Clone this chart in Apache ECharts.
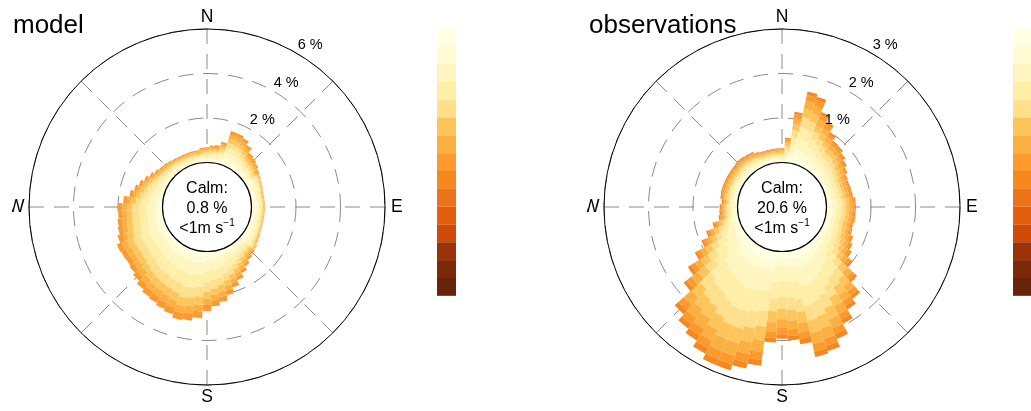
<!DOCTYPE html>
<html><head><meta charset="utf-8">
<script src="https://cdn.jsdelivr.net/npm/echarts@6/dist/echarts.min.js"></script>
<style>html,body{margin:0;padding:0;background:#fff}#c{width:1031px;height:411px}</style>
</head><body><div id="c"></div>
<script>
const FONT = "'Liberation Sans', Arial, Helvetica, sans-serif";
// wind direction bins (degrees, 5-degree bins)
const directions = [5,10,15,20,25,30,35,40,45,50,55,60,65,70,75,80,85,90,95,100,105,110,115,120,125,130,135,140,145,150,155,160,165,170,175,180,185,190,195,200,205,210,215,220,225,230,235,240,245,250,255,260,265,270,275,280,285,290,295,300,305,310,315,320,325,330,335,340,345,350,355,360];
const cardinalLabels = ['N','E','S','W'];
const modelTicks = [2,4,6];
const obsTicks = [1,2,3];
const modelCalm = 0.8;
const obsCalm = 20.6;
const palette = ['#FFFFE4','#FFFBD2','#FFF6BF','#FFEEA6','#FEE08C','#FEC55A','#FDB042','#FC9A2E','#F7871F','#EE7318','#E35F0E','#CF4A06','#9C3207','#7C2908','#66250A'];

// model: frequency (%) per wind-speed band, per direction
const m1 = [0.09,0.1,0.12,0.19,0.19,0.18,0.16,0.13,0.12,0.11,0.1, 0.15,0.14,0.13,0.12,0.12,0.12,0.12,0.12,0.12,0.12,0.13,0.13,0.14,0.15,0.17, 0.11,0.12,0.14,0.16, 0.12,0.14,0.16,0.18,0.2,0.21,0.24,0.25,0.26,0.24,0.24,0.23,0.22,0.21,0.2,0.19,0.19,0.19,0.19,0.18,0.17,0.16,0.16,0.16,0.14,0.12,0.11,0.1,0.08, 0.11,0.1,0.09,0.08,0.08,0.07,0.07,0.07,0.07,0.07,0.07,0.08,0.08];
const m2 = [0.09,0.1,0.12,0.19,0.19,0.18,0.16,0.13,0.12,0.11,0.1, 0.15,0.14,0.13,0.12,0.12,0.12,0.12,0.12,0.12,0.12,0.13,0.13,0.14,0.15,0.17, 0.11,0.12,0.14,0.16, 0.14,0.16,0.18,0.21,0.22,0.24,0.27,0.28,0.29,0.27,0.27,0.26,0.25,0.24,0.23,0.21,0.21,0.21,0.21,0.2,0.19,0.18,0.18,0.18,0.16,0.14,0.12,0.11,0.09, 0.11,0.1,0.09,0.08,0.08,0.07,0.07,0.07,0.07,0.07,0.07,0.08,0.08];
const m3 = [0.11,0.11,0.14,0.22,0.22,0.21,0.18,0.15,0.14,0.13,0.11, 0.15,0.14,0.13,0.12,0.12,0.12,0.12,0.12,0.12,0.12,0.13,0.13,0.14,0.15,0.17, 0.13,0.14,0.16,0.19, 0.28,0.32,0.37,0.41,0.44,0.48,0.54,0.57,0.58,0.55,0.53,0.51,0.5,0.48,0.45,0.43,0.42,0.42,0.43,0.4,0.38,0.37,0.36,0.36,0.32,0.27,0.24,0.22,0.19, 0.13,0.11,0.1,0.1,0.09,0.09,0.08,0.08,0.08,0.08,0.08,0.09,0.1];
const m4 = [0.11,0.11,0.14,0.22,0.22,0.21,0.18,0.15,0.14,0.13,0.11, 0.11,0.1,0.1,0.09,0.09,0.09,0.09,0.09,0.09,0.09,0.09,0.1,0.11,0.11,0.13, 0.13,0.14,0.16,0.19, 0.28,0.32,0.37,0.41,0.44,0.48,0.54,0.57,0.58,0.55,0.53,0.51,0.5,0.48,0.45,0.43,0.42,0.42,0.43,0.4,0.38,0.37,0.36,0.36,0.32,0.27,0.24,0.22,0.19, 0.13,0.11,0.1,0.1,0.09,0.09,0.08,0.08,0.08,0.08,0.08,0.09,0.1];
const m5 = [0.11,0.11,0.14,0.22,0.22,0.21,0.18,0.15,0.14,0.13,0.11, 0.07,0.07,0.07,0.06,0.06,0.06,0.06,0.06,0.06,0.06,0.06,0.07,0.07,0.08,0.08, 0.13,0.14,0.16,0.19, 0.23,0.27,0.31,0.35,0.37,0.4,0.45,0.47,0.48,0.46,0.44,0.43,0.42,0.4,0.38,0.36,0.35,0.35,0.36,0.33,0.32,0.31,0.3,0.3,0.26,0.23,0.2,0.18,0.16, 0.13,0.11,0.1,0.1,0.09,0.09,0.08,0.08,0.08,0.08,0.08,0.09,0.1];
const m6 = [0.09,0.1,0.12,0.19,0.19,0.18,0.16,0.13,0.12,0.11,0.1, 0.06,0.05,0.05,0.05,0.05,0.05,0.05,0.05,0.05,0.05,0.05,0.05,0.06,0.06,0.07, 0.11,0.12,0.14,0.16, 0.19,0.22,0.25,0.28,0.29,0.32,0.36,0.38,0.38,0.37,0.35,0.34,0.34,0.32,0.3,0.29,0.28,0.28,0.29,0.27,0.25,0.25,0.24,0.24,0.21,0.18,0.16,0.14,0.13, 0.11,0.1,0.09,0.08,0.08,0.07,0.07,0.07,0.07,0.07,0.07,0.08,0.08];
const m7 = [0.09,0.1,0.12,0.19,0.19,0.18,0.16,0.13,0.12,0.11,0.1, 0.04,0.03,0.03,0.03,0.03,0.03,0.03,0.03,0.03,0.03,0.03,0.03,0.04,0.04,0.04, 0.11,0.12,0.14,0.16, 0.16,0.18,0.21,0.23,0.25,0.27,0.3,0.32,0.32,0.31,0.3,0.29,0.28,0.27,0.25,0.24,0.23,0.24,0.24,0.22,0.21,0.21,0.2,0.2,0.18,0.15,0.14,0.12,0.11, 0.11,0.1,0.09,0.08,0.08,0.07,0.07,0.07,0.07,0.07,0.07,0.08,0.08];
const m8 = [0.08,0.08,0.1,0.16,0.16,0.15,0.13,0.11,0.1,0.09,0.08, 0.01,0.01,0.01,0.01,0.01,0.01,0.01,0.01,0.01,0.01,0.01,0.01,0.01,0.02,0.02, 0.09,0.1,0.12,0.14, 0.16,0.18,0.21,0.23,0.25,0.27,0.3,0.32,0.32,0.31,0.3,0.29,0.28,0.27,0.25,0.24,0.23,0.24,0.24,0.22,0.21,0.21,0.2,0.2,0.18,0.15,0.14,0.12,0.11, 0.09,0.08,0.07,0.07,0.06,0.06,0.06,0.06,0.06,0.06,0.06,0.07,0.07];

// observations: frequency (%) per wind-speed band, per direction
const o1 = [0.06,0.12,0.17,0.16,0.13,0.12,0.1,0.09,0.09,0.08,0.07,0.07,0.06,0.06,0.06,0.06,0.07,0.07,0.07,0.07,0.06,0.07,0.07,0.08,0.09,0.1, 0.1,0.13,0.14,0.16,0.18,0.19,0.2,0.17,0.16,0.16,0.16,0.21,0.22,0.23,0.23,0.22,0.2,0.2,0.18,0.14,0.12,0.1,0.08,0.06, 0.07,0.05,0.05,0.05,0.04,0.05,0.05,0.05,0.05,0.05,0.05,0.05,0.05,0.05,0.05,0.05,0.04,0.04,0.04,0.04,0.04,0.04];
const o2 = [0.06,0.12,0.17,0.16,0.13,0.12,0.1,0.09,0.09,0.08,0.07,0.07,0.06,0.06,0.06,0.06,0.07,0.07,0.07,0.07,0.06,0.07,0.07,0.08,0.09,0.1, 0.1,0.13,0.14,0.16,0.18,0.19,0.2,0.17,0.16,0.16,0.16,0.21,0.22,0.23,0.23,0.22,0.2,0.2,0.18,0.14,0.12,0.1,0.08,0.06, 0.07,0.05,0.05,0.05,0.04,0.05,0.05,0.05,0.05,0.05,0.05,0.05,0.05,0.05,0.05,0.05,0.04,0.04,0.04,0.04,0.04,0.04];
const o3 = [0.08,0.17,0.25,0.24,0.2,0.17,0.15,0.13,0.13,0.12,0.11,0.1,0.09,0.09,0.09,0.09,0.1,0.1,0.1,0.1,0.1,0.1,0.11,0.12,0.13,0.15, 0.23,0.29,0.31,0.35,0.4,0.43,0.44,0.38,0.36,0.35,0.37,0.47,0.49,0.51,0.51,0.49,0.46,0.44,0.41,0.32,0.27,0.22,0.17,0.14, 0.08,0.06,0.05,0.05,0.05,0.05,0.05,0.05,0.05,0.05,0.05,0.05,0.06,0.06,0.05,0.05,0.05,0.04,0.04,0.04,0.04,0.04];
const o4 = [0.08,0.17,0.25,0.24,0.2,0.17,0.15,0.13,0.13,0.12,0.11,0.1,0.09,0.09,0.09,0.09,0.1,0.1,0.1,0.1,0.1,0.1,0.11,0.12,0.13,0.15, 0.23,0.29,0.31,0.35,0.4,0.43,0.44,0.38,0.36,0.35,0.37,0.47,0.49,0.51,0.51,0.49,0.46,0.44,0.41,0.32,0.27,0.22,0.17,0.14, 0.08,0.06,0.05,0.05,0.05,0.05,0.05,0.05,0.05,0.05,0.05,0.05,0.06,0.06,0.05,0.05,0.05,0.04,0.04,0.04,0.04,0.04];
const o5 = [0.08,0.16,0.23,0.22,0.18,0.16,0.14,0.12,0.12,0.11,0.1,0.09,0.08,0.08,0.08,0.09,0.09,0.09,0.09,0.09,0.09,0.09,0.1,0.11,0.12,0.14, 0.18,0.22,0.24,0.27,0.31,0.34,0.34,0.29,0.28,0.27,0.29,0.36,0.38,0.4,0.4,0.38,0.36,0.34,0.32,0.25,0.21,0.17,0.13,0.11, 0.07,0.05,0.05,0.05,0.04,0.05,0.05,0.05,0.05,0.05,0.05,0.05,0.05,0.05,0.05,0.05,0.04,0.04,0.04,0.04,0.04,0.04];
const o6 = [0.07,0.14,0.2,0.19,0.16,0.14,0.12,0.11,0.1,0.1,0.09,0.08,0.07,0.07,0.07,0.07,0.08,0.08,0.08,0.08,0.08,0.08,0.09,0.09,0.1,0.12, 0.16,0.19,0.21,0.23,0.26,0.29,0.29,0.25,0.24,0.23,0.25,0.31,0.32,0.34,0.34,0.32,0.31,0.29,0.27,0.22,0.18,0.14,0.11,0.1, 0.07,0.05,0.05,0.05,0.04,0.05,0.05,0.05,0.05,0.05,0.05,0.05,0.05,0.05,0.05,0.05,0.04,0.04,0.04,0.04,0.04,0.04];
const o7 = [0.06,0.13,0.18,0.18,0.14,0.13,0.11,0.1,0.09,0.09,0.08,0.07,0.07,0.06,0.07,0.07,0.07,0.07,0.07,0.07,0.07,0.07,0.08,0.09,0.09,0.11, 0.13,0.16,0.17,0.2,0.22,0.24,0.25,0.21,0.2,0.2,0.21,0.26,0.27,0.29,0.29,0.27,0.26,0.25,0.23,0.18,0.15,0.12,0.1,0.08, 0.06,0.05,0.04,0.04,0.04,0.04,0.04,0.04,0.04,0.04,0.04,0.04,0.04,0.04,0.04,0.04,0.04,0.03,0.03,0.03,0.03,0.03];
const o8 = [0.04,0.09,0.13,0.13,0.1,0.09,0.08,0.07,0.07,0.06,0.06,0.05,0.05,0.05,0.05,0.05,0.05,0.05,0.05,0.05,0.05,0.05,0.06,0.06,0.07,0.08, 0.09,0.11,0.12,0.14,0.15,0.17,0.17,0.15,0.14,0.14,0.14,0.18,0.19,0.2,0.2,0.19,0.18,0.17,0.16,0.13,0.11,0.08,0.07,0.06, 0.06,0.04,0.04,0.03,0.03,0.03,0.04,0.04,0.04,0.04,0.04,0.04,0.04,0.04,0.04,0.03,0.03,0.03,0.03,0.03,0.03,0.03];
const o9 = [0.03,0.06,0.08,0.08,0.07,0.06,0.05,0.04,0.04,0.04,0.04,0.03,0.03,0.03,0.03,0.03,0.03,0.03,0.03,0.03,0.03,0.03,0.04,0.04,0.04,0.05, 0.07,0.08,0.09,0.1,0.11,0.12,0.12,0.11,0.1,0.1,0.1,0.13,0.14,0.14,0.14,0.14,0.13,0.12,0.11,0.09,0.08,0.06,0.05,0.04, 0.04,0.03,0.03,0.03,0.03,0.03,0.03,0.03,0.03,0.03,0.03,0.03,0.03,0.03,0.03,0.03,0.02,0.02,0.02,0.02,0.02,0.02];

const modelBands = [m1,m2,m3,m4,m5,m6,m7,m8];
const obsBands = [o1,o2,o3,o4,o5,o6,o7,o8,o9];
const dirCats = directions.map(String);
const cardinalOf = {0: cardinalLabels[0], 90: '{e|' + cardinalLabels[1] + '}', 180: cardinalLabels[2], 270: '{w|' + cardinalLabels[3] + '}'};
const GRID = {color: '#8a8a8a', width: 1, type: [15, 10]};

function barAngle(pi) {
  return {polarIndex: pi, type: 'category', data: dirCats, startAngle: 87.5, clockwise: true,
    boundaryGap: true, show: false};
}
function gridAngle(pi) {
  return {polarIndex: pi, type: 'value', min: 0, max: 360, interval: 45, startAngle: 90, clockwise: true, z: 1,
    axisLine: {show: true, lineStyle: {color: '#000', width: 1}}, axisTick: {show: false},
    axisLabel: {show: true, margin: 3, color: '#000', fontSize: 17.5, fontFamily: FONT,
      rich: {e: {fontSize: 17.5, fontFamily: FONT, color: '#000', padding: [0, 0, 0, 3]},
             w: {fontSize: 17.5, fontFamily: FONT, color: '#000', padding: [0, 1.5, 0, 0]}},
      formatter: v => cardinalOf[v] || ''},
    splitLine: {show: true, lineStyle: GRID}};
}
function gridRadius(pi, min, max, interval) {
  return {polarIndex: pi, type: 'value', min, max, interval, z: 0,
    axisLine: {show: false}, axisTick: {show: false}, axisLabel: {show: false},
    splitLine: {show: true, lineStyle: GRID}};
}

const series = [];
modelBands.forEach((d, i) => series.push({type: 'bar', coordinateSystem: 'polar', polarIndex: 0, stack: 'model',
  data: d, barCategoryGap: '0%', itemStyle: {color: palette[i]}, z: 2, silent: true}));
obsBands.forEach((d, i) => series.push({type: 'bar', coordinateSystem: 'polar', polarIndex: 2, stack: 'obs',
  data: d, barCategoryGap: '0%', itemStyle: {color: palette[i]}, z: 2, silent: true}));

function calmSeries(pi, calm) {
  return {type: 'custom', coordinateSystem: 'polar', polarIndex: pi, z: 5, silent: true, data: [[0, 0]],
    renderItem: (params, api) => {
      const p = api.coord([0, 0]);
      const cs = params.coordSys;
      return {type: 'group', children: [
        {type: 'circle', shape: {cx: cs.cx, cy: cs.cy, r: p[2]}, style: {fill: '#fff', stroke: '#000', lineWidth: 1.2}},
        {type: 'text', x: cs.cx, y: cs.cy + 1.5, style: {
          text: 'Calm:\n' + calm + ' %\n<1m s{sup|\u22121}', align: 'center', verticalAlign: 'middle',
          fontSize: 16, fontFamily: FONT, fill: '#000', lineHeight: 19.6,
          rich: {sup: {fontSize: 10, fontFamily: FONT, fill: '#000', verticalAlign: 'top', lineHeight: 19.6}}}}
      ]};
    }};
}
function tickSeries(pi, ticks) {
  const ang = 32.5;
  return {type: 'custom', coordinateSystem: 'polar', polarIndex: pi, z: 4, silent: true,
    data: ticks.map(v => [v, ang]),
    renderItem: (params, api) => {
      const v = api.value(0);
      const p = api.coord([v, ang]);
      const a = ang * Math.PI / 180;
      return {type: 'text', x: p[0] + 14 * Math.sin(a), y: p[1] - 14 * Math.cos(a),
        style: {text: v + ' %', align: 'center', verticalAlign: 'middle', fontSize: 14.5, fontFamily: FONT, fill: '#000'}};
    }};
}
series.push(calmSeries(0, modelCalm), calmSeries(2, obsCalm), tickSeries(1, modelTicks), tickSeries(3, obsTicks));

const graphic = [];
[437, 1013].forEach(x => palette.forEach((c, i) => graphic.push({type: 'rect', silent: true,
  shape: {x: x, y: 28.3 + i * 17.83, width: 19, height: 17.9}, style: {fill: c}})));
// panel clipping of the west label
graphic.push({type: 'rect', silent: true, z: 100, shape: {x: 0, y: 190, width: 12, height: 35}, style: {fill: '#fff'}});
graphic.push({type: 'rect', silent: true, z: 100, shape: {x: 575, y: 190, width: 12, height: 35}, style: {fill: '#fff'}});

const chart = echarts.init(document.getElementById('c'), null, {renderer: 'canvas'});
chart.setOption({
  animation: false,
  backgroundColor: '#fff',
  title: [
    {text: 'model', left: 13, top: 13, padding: 0, textStyle: {fontSize: 26, fontWeight: 'normal', fontFamily: FONT, color: '#000'}},
    {text: 'observations', left: 589, top: 13, padding: 0, textStyle: {fontSize: 26, fontWeight: 'normal', fontFamily: FONT, color: '#000'}}
  ],
  polar: [
    {center: [207, 207], radius: 178},
    {center: [207, 207], radius: 178},
    {center: [782, 207], radius: 178},
    {center: [782, 207], radius: 178}
  ],
  angleAxis: [barAngle(0), gridAngle(1), barAngle(2), gridAngle(3)],
  radiusAxis: [
    {polarIndex: 0, type: 'value', min: -2, max: 6, show: false},
    gridRadius(1, -2, 6, 2),
    {polarIndex: 2, type: 'value', min: -1, max: 3, show: false},
    gridRadius(3, -1, 3, 1)
  ],
  graphic: graphic,
  series: series
});
</script>
</body></html>
